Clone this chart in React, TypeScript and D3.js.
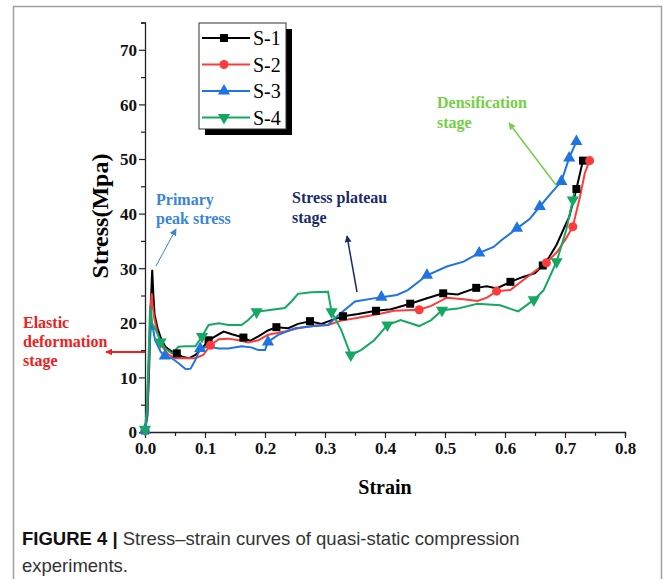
import React, { useEffect, useRef } from 'react';
import * as d3 from 'd3';

// [strain, stress, marker?]
type Pt = [number, number, number?];

const seriesNames = ['S-1', 'S-2', 'S-3', 'S-4'];
const seriesColors = ['#000000', '#ff3a3a', '#1f74e0', '#14a862'];

const s1: Pt[] = [
  [0, 0.3, 1], [0.004, 3], [0.007, 12], [0.009, 22], [0.011, 27], [0.012, 29.7], [0.014, 25],
  [0.016, 21.5], [0.021, 19], [0.027, 17], [0.034, 15.6], [0.045, 14.7], [0.053, 14.4, 1],
  [0.062, 13.8], [0.073, 13.5], [0.084, 14.1], [0.095, 15.3], [0.106, 16.8, 1], [0.117, 17.5],
  [0.131, 18.4], [0.145, 17.9], [0.164, 17.3, 1], [0.175, 16.7], [0.189, 17.5], [0.205, 18.6],
  [0.219, 19.2, 1], [0.239, 19.0], [0.255, 19.8], [0.275, 20.3, 1], [0.294, 19.8], [0.311, 20.5],
  [0.33, 21.2, 1], [0.355, 21.6], [0.385, 22.2, 1], [0.41, 22.5], [0.442, 23.5, 1], [0.47, 24.5],
  [0.497, 25.4, 1], [0.521, 25.2], [0.552, 26.4, 1], [0.57, 26.7], [0.586, 26.3], [0.609, 27.5, 1],
  [0.63, 28.4], [0.65, 29.1], [0.663, 30.5, 1], [0.674, 32.1], [0.686, 34.3], [0.697, 37],
  [0.707, 39.4], [0.719, 44.5, 1], [0.725, 47.4], [0.73, 49.7, 1],
];

const s2: Pt[] = [
  [0, 0.3, 1], [0.004, 4], [0.007, 14], [0.009, 22], [0.011, 25.4], [0.013, 23], [0.015, 21.1],
  [0.021, 18], [0.029, 15.6], [0.04, 14.1], [0.051, 13.5], [0.068, 13.5], [0.084, 13.5],
  [0.097, 14.1], [0.109, 15.9, 1], [0.123, 17], [0.139, 17.1], [0.156, 16.8], [0.172, 16.4],
  [0.189, 16.8], [0.205, 17.8], [0.233, 18.4], [0.255, 19], [0.283, 19.5], [0.305, 19.6],
  [0.327, 20.4], [0.36, 21], [0.394, 21.7], [0.415, 22.2], [0.457, 22.4, 1], [0.477, 23.1],
  [0.503, 24.6], [0.531, 24.3], [0.554, 24], [0.57, 24.6], [0.586, 25.8, 1], [0.609, 26],
  [0.63, 27.8], [0.653, 29.7], [0.669, 31, 1], [0.687, 33], [0.702, 35.5], [0.713, 37.6, 1],
  [0.725, 43.1], [0.733, 47.4], [0.741, 49.7, 1],
];

const s3: Pt[] = [
  [0, 0.3, 1], [0.003, 3], [0.006, 12], [0.009, 18], [0.011, 20.2], [0.014, 18.5], [0.017, 16.8],
  [0.026, 14.7], [0.033, 13.9, 1], [0.045, 13.5], [0.056, 12.6], [0.068, 11.5], [0.076, 11.6],
  [0.084, 13.2], [0.092, 15.3, 1], [0.106, 15.6], [0.123, 15.3], [0.139, 15.3], [0.161, 15.7],
  [0.177, 15.5], [0.189, 15], [0.2, 15], [0.205, 16.5, 1], [0.222, 17.8], [0.25, 19],
  [0.283, 19.4], [0.305, 19.6], [0.322, 21.4], [0.35, 23.9], [0.394, 24.7, 1], [0.42, 25.1],
  [0.438, 26], [0.47, 28.7, 1], [0.503, 30.3], [0.531, 31.2], [0.557, 32.8, 1], [0.581, 33.9],
  [0.595, 35.2], [0.62, 37.3, 1], [0.641, 39], [0.658, 41.3, 1], [0.674, 43.4], [0.694, 45.9, 1],
  [0.707, 50.2, 1], [0.719, 53.2, 1],
];

const s4: Pt[] = [
  [0, 0.5, 1], [0.003, 4], [0.006, 14], [0.008, 21], [0.009, 23], [0.012, 19.9], [0.021, 18],
  [0.026, 16.5, 1], [0.034, 15.3], [0.045, 14.4], [0.056, 15.6], [0.068, 15.7], [0.084, 15.7],
  [0.095, 17.5, 1], [0.106, 19.6], [0.123, 19.9], [0.139, 19.6], [0.161, 19.6], [0.172, 20.5],
  [0.186, 22, 1], [0.205, 22.3], [0.233, 22.7], [0.244, 23.9], [0.255, 25.3], [0.277, 25.6],
  [0.305, 25.7], [0.311, 22, 1], [0.327, 18.7], [0.343, 14.1, 1], [0.36, 15], [0.382, 16.8],
  [0.404, 19.6, 1], [0.426, 20.5], [0.457, 19.4], [0.477, 20.5], [0.495, 22.3, 1], [0.521, 22.6],
  [0.554, 23.5], [0.592, 23.2], [0.622, 22.1], [0.648, 24.2, 1], [0.664, 25.9], [0.686, 31.2, 1],
  [0.702, 37], [0.713, 42.5, 1], [0.716, 44.3],
];

const allSeries = [s1, s2, s3, s4];

const xTicks = [0, 0.1, 0.2, 0.3, 0.4, 0.5, 0.6, 0.7, 0.8];
const yTicks = [0, 10, 20, 30, 40, 50, 60, 70];

const serif = '"Liberation Serif", "Times New Roman", serif';

export default function App() {
  const ref = useRef<SVGSVGElement>(null);

  useEffect(() => {
    const svg = d3.select(ref.current);
    svg.selectAll('*').remove();

    // outer figure frame
    svg.append('rect')
      .attr('x', 13.5).attr('y', 6.5).attr('width', 648).attr('height', 600)
      .attr('fill', 'none').attr('stroke', '#a0a0a0').attr('stroke-width', 1.5);

    const x = d3.scaleLinear().domain([0, 0.8]).range([145, 625]);
    const y = d3.scaleLinear().domain([0, 75]).range([432, 22.5]);

    // axes
    const xAxis = svg.append('g').attr('transform', 'translate(0,432)');
    xAxis.call(
      d3.axisBottom(x).tickValues(d3.range(0, 0.801, 0.05)).tickSize(4).tickFormat(() => '')
    );
    xAxis.call((g) => g.selectAll('.tick line').attr('y2', (d: any) => (Math.round(d * 100) % 10 === 0 ? 6 : 4)));
    xAxis.selectAll('.tick')
      .filter((d: any) => xTicks.some((t) => Math.abs(t - d) < 1e-6))
      .append('text')
      .attr('y', 22).attr('fill', '#111')
      .text((d: any) => d3.format('.1f')(d));

    const yAxis = svg.append('g').attr('transform', 'translate(145,0)');
    yAxis.call(
      d3.axisLeft(y).tickValues(d3.range(0, 75.1, 5)).tickSize(4).tickFormat(() => '')
    );
    yAxis.call((g) => g.selectAll('.tick line').attr('x2', (d: any) => (d % 10 === 0 ? -6 : -4)));
    yAxis.selectAll('.tick')
      .filter((d: any) => yTicks.includes(d))
      .append('text')
      .attr('x', -8).attr('dy', '0.35em').attr('fill', '#111')
      .text((d: any) => d);

    svg.selectAll('.domain').attr('stroke', '#222').attr('stroke-width', 1.3);
    svg.selectAll('.tick line').attr('stroke', '#222').attr('stroke-width', 1.2);
    svg.selectAll('.tick text')
      .style('font-family', serif).style('font-weight', 'bold').style('font-size', '17px');

    svg.append('text')
      .attr('x', 385).attr('y', 494).attr('text-anchor', 'middle')
      .style('font-family', serif).style('font-weight', 'bold').style('font-size', '20px')
      .text('Strain');

    svg.append('text')
      .attr('transform', 'translate(108,216) rotate(-90)').attr('text-anchor', 'middle')
      .style('font-family', serif).style('font-weight', 'bold').style('font-size', '24px')
      .text('Stress(Mpa)');

    // curves
    const line = d3.line<Pt>().x((d) => x(d[0])).y((d) => y(d[1]));
    const symbols = [
      d3.symbol().type(d3.symbolSquare).size(64),
      d3.symbol().type(d3.symbolCircle).size(64),
      d3.symbol().type(d3.symbolTriangle).size(64),
      d3.symbol().type(d3.symbolTriangle).size(64),
    ];
    const rot = [0, 0, 0, 180];

    allSeries.forEach((data, i) => {
      svg.append('path')
        .datum(data)
        .attr('d', line)
        .attr('fill', 'none')
        .attr('stroke', seriesColors[i])
        .attr('stroke-width', 2);
    });
    allSeries.forEach((data, i) => {
      svg.append('g')
        .selectAll('path')
        .data(data.filter((d) => d[2]))
        .enter()
        .append('path')
        .attr('d', symbols[i])
        .attr('transform', (d) => `translate(${x(d[0])},${y(d[1])}) rotate(${rot[i]})`)
        .attr('fill', seriesColors[i]);
    });

    // legend
    const lg = svg.append('g');
    lg.append('rect').attr('x', 205).attr('y', 29).attr('width', 87).attr('height', 106).attr('fill', '#000');
    lg.append('rect').attr('x', 199).attr('y', 23).attr('width', 87).attr('height', 106)
      .attr('fill', '#fff').attr('stroke', '#333').attr('stroke-width', 1);
    seriesNames.forEach((name, i) => {
      const ly = 38 + i * 26.5;
      lg.append('line').attr('x1', 202).attr('x2', 250).attr('y1', ly).attr('y2', ly)
        .attr('stroke', seriesColors[i]).attr('stroke-width', 2);
      lg.append('path').attr('d', symbols[i])
        .attr('transform', `translate(224,${ly}) rotate(${rot[i]})`).attr('fill', seriesColors[i]);
      lg.append('text').attr('x', 253).attr('y', ly + 7)
        .style('font-family', serif).style('font-size', '20px').text(name);
    });

    // annotations
    const defs = svg.append('defs');
    const arrowColors: Record<string, string> = {
      blue: '#3a84dc', red: '#ee2020', navy: '#1b2a6b', green: '#74cf45',
    };
    Object.entries(arrowColors).forEach(([k, c]) => {
      defs.append('marker')
        .attr('id', 'ah-' + k).attr('viewBox', '0 0 10 10').attr('refX', 9).attr('refY', 5)
        .attr('markerWidth', 7).attr('markerHeight', 7).attr('markerUnits', 'userSpaceOnUse')
        .attr('orient', 'auto')
        .append('path').attr('d', 'M0,0L10,5L0,10Z').attr('fill', c);
    });

    const note = (lines: string[], tx: number, ty: number, color: string, size: number, lh: number) => {
      const t = svg.append('text')
        .style('font-family', serif).style('font-weight', 'bold').style('font-size', size + 'px')
        .attr('fill', color);
      lines.forEach((s, i) => t.append('tspan').attr('x', tx).attr('y', ty + i * lh).text(s));
    };
    const arrow = (x1: number, y1: number, x2: number, y2: number, k: string, w = 1) => {
      svg.append('line').attr('x1', x1).attr('y1', y1).attr('x2', x2).attr('y2', y2)
        .attr('stroke', arrowColors[k]).attr('stroke-width', w).attr('marker-end', `url(#ah-${k})`);
    };

    note(['Primary', 'peak stress'], 156, 205, arrowColors.blue, 16, 19);
    arrow(156, 266, 176, 229, 'blue');

    note(['Elastic', 'deformation', 'stage'], 23, 328, arrowColors.red, 16, 19);
    arrow(145, 352, 106, 352, 'red', 2);

    note(['Stress plateau', 'stage'], 292, 203, arrowColors.navy, 16, 20);
    arrow(357, 292, 347, 236, 'navy', 1.5);

    note(['Densification', 'stage'], 437, 108, arrowColors.green, 16, 20);
    arrow(556, 185, 509, 123, 'green', 1.5);

    // caption
    const capFont = '"Liberation Sans", Arial, sans-serif';
    const cap = svg.append('text').attr('x', 22).attr('y', 545)
      .style('font-family', capFont).style('font-size', '18.5px').attr('fill', '#333');
    cap.append('tspan').style('font-weight', 'bold').attr('fill', '#111').text('FIGURE 4 | ');
    cap.append('tspan').text('Stress–strain curves of quasi-static compression');
    svg.append('text').attr('x', 22).attr('y', 572)
      .style('font-family', capFont).style('font-size', '18.5px').attr('fill', '#333')
      .text('experiments.');
  }, []);

  return (
    <svg
      ref={ref}
      width={663}
      height={579}
      style={{ position: 'absolute', left: 0, top: 0, background: '#fff' }}
    />
  );
}
